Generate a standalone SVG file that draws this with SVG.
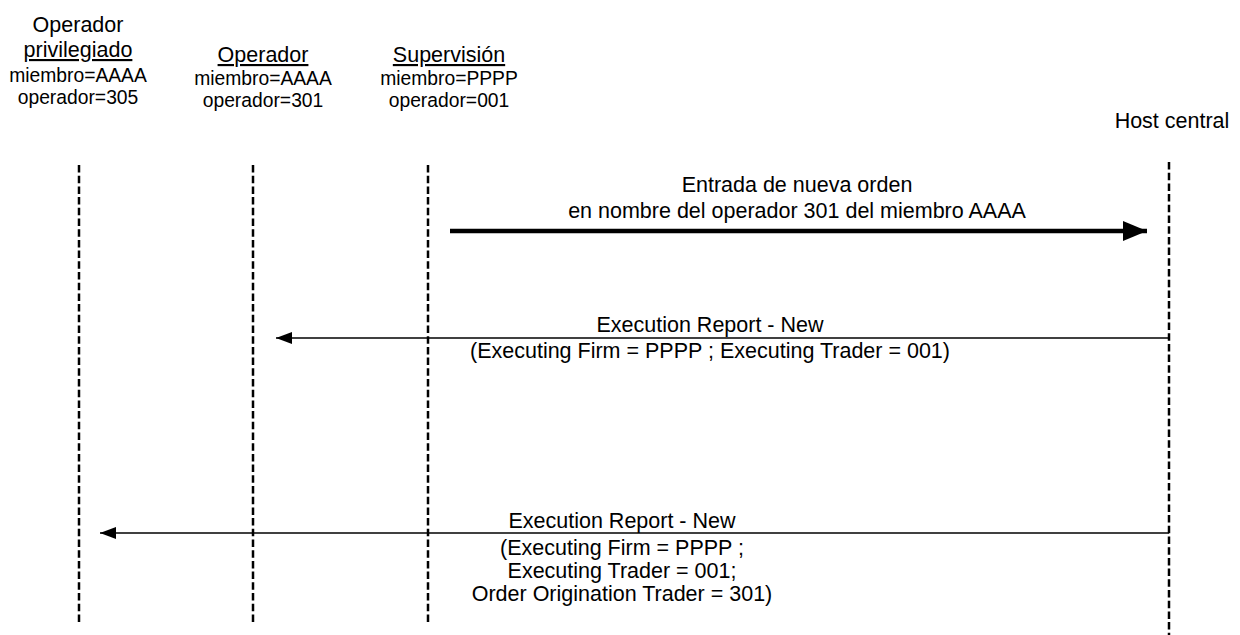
<svg xmlns="http://www.w3.org/2000/svg" width="1240" height="635" viewBox="0 0 1240 635">
<style>
text{font-family:"Liberation Sans",Arial,sans-serif;font-size:19.3px;fill:#000;text-anchor:middle}
.title{font-size:21.5px}
.msg{font-size:21.5px}
.life{stroke:#000;stroke-width:2.5;stroke-dasharray:7.5 3.2;fill:none}
.thin{stroke:#000;stroke-width:1.6;fill:none}
.thick{stroke:#000;stroke-width:4.5;fill:none}
</style>
<defs>
<marker id="bigHead" markerUnits="userSpaceOnUse" markerWidth="24" markerHeight="22" refX="24" refY="11" orient="auto"><path d="M0,1 L24,11 L0,21 Z" fill="#000"/></marker>
<marker id="smallHead" markerUnits="userSpaceOnUse" markerWidth="16" markerHeight="14" refX="16" refY="7" orient="auto"><path d="M0,1 L16,7 L0,13 Z" fill="#000"/></marker>
</defs>
<g id="node-privilegiado">
<text class="title" x="78" y="32">Operador</text>
<text class="title" x="78" y="57" text-decoration="underline">privilegiado</text>
<text x="78" y="82">miembro=AAAA</text>
<text x="78" y="104">operador=305</text>
<line class="life" x1="79" y1="165" x2="79" y2="622"/>
</g>
<g id="node-operador">
<text class="title" x="263" y="62" text-decoration="underline">Operador</text>
<text x="263" y="85">miembro=AAAA</text>
<text x="263" y="107">operador=301</text>
<line class="life" x1="253" y1="165" x2="253" y2="622"/>
</g>
<g id="node-supervision">
<text class="title" x="449" y="62" text-decoration="underline">Supervisión</text>
<text x="449" y="85">miembro=PPPP</text>
<text x="449" y="107">operador=001</text>
<line class="life" x1="428" y1="165" x2="428" y2="622"/>
</g>
<g id="node-host">
<text class="msg" x="1172" y="128">Host central</text>
<line class="life" x1="1169" y1="162" x2="1169" y2="635"/>
</g>
<g id="connectors">
<line class="thick" x1="450" y1="231" x2="1147" y2="231" marker-end="url(#bigHead)"/>
<text class="msg" x="797" y="192">Entrada de nueva orden</text>
<text class="msg" x="797" y="218">en nombre del operador 301 del miembro AAAA</text>
<line class="thin" x1="1169" y1="338" x2="276" y2="338" marker-end="url(#smallHead)"/>
<text class="msg" x="710" y="332">Execution Report - New</text>
<text class="msg" x="710" y="358">(Executing Firm = PPPP ; Executing Trader = 001)</text>
<line class="thin" x1="1169" y1="533" x2="100" y2="533" marker-end="url(#smallHead)"/>
<text class="msg" x="622" y="528">Execution Report - New</text>
<text class="msg" x="622" y="555">(Executing Firm = PPPP ;</text>
<text class="msg" x="622" y="578">Executing Trader = 001;</text>
<text class="msg" x="622" y="601">Order Origination Trader = 301)</text>
</g>
</svg>
